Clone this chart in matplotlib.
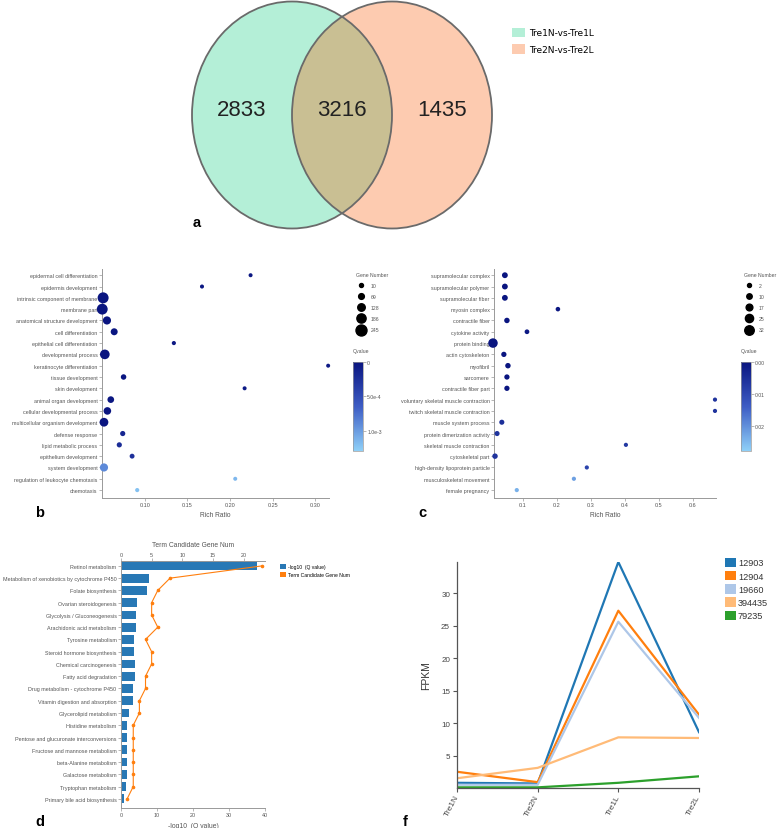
import numpy as np
import matplotlib.pyplot as plt
from matplotlib.patches import Ellipse, Patch
from matplotlib.lines import Line2D
from matplotlib.colors import LinearSegmentedColormap, Normalize

plt.rcParams['font.family'] = ['Liberation Sans', 'DejaVu Sans']

# ---- a: Venn
venn_sets = ["Tre1N-vs-Tre1L", "Tre2N-vs-Tre2L"]
venn_counts = [2833, 3216, 1435]

# ---- b: GO enrichment (set 1)
b_terms = ["epidermal cell differentiation", "epidermis development",
           "intrinsic component of membrane", "membrane part",
           "anatomical structure development", "cell differentiation",
           "epithelial cell differentiation", "developmental process",
           "keratinocyte differentiation", "tissue development", "skin development",
           "animal organ development", "cellular developmental process",
           "multicellular organism development", "defense response",
           "lipid metabolic process", "epithelium development", "system development",
           "regulation of leukocyte chemotaxis", "chemotaxis"]
b_ratio = [0.224, 0.167, 0.051, 0.050, 0.0555, 0.064, 0.134, 0.053, 0.315, 0.075,
           0.217, 0.060, 0.056, 0.052, 0.074, 0.070, 0.085, 0.052, 0.206, 0.091]
b_genes = [10, 12, 245, 240, 150, 110, 15, 200, 10, 60,
           10, 100, 130, 170, 50, 50, 40, 150, 10, 15]
b_q = [2e-5, 3e-5, 0, 0, 0, 1e-5, 4e-5, 0, 5e-5, 1e-5,
       6e-5, 2e-5, 0, 0, 1.6e-4, 2.2e-4, 2.5e-4, 9e-4, 1.15e-3, 1.2e-3]
b_gene_ticks = [10, 69, 128, 186, 245]

# ---- c: GO enrichment (set 2)
c_terms = ["supramolecular complex", "supramolecular polymer", "supramolecular fiber",
           "myosin complex", "contractile fiber", "cytokine activity", "protein binding",
           "actin cytoskeleton", "myofibril", "sarcomere", "contractile fiber part",
           "voluntary skeletal muscle contraction", "twitch skeletal muscle contraction",
           "muscle system process", "protein dimerization activity",
           "skeletal muscle contraction", "cytoskeletal part",
           "high-density lipoprotein particle", "musculoskeletal movement",
           "female pregnancy"]
c_ratio = [0.047, 0.047, 0.047, 0.203, 0.053, 0.112, 0.012, 0.044, 0.056, 0.053,
           0.053, 0.665, 0.665, 0.038, 0.024, 0.403, 0.018, 0.288, 0.250, 0.082]
c_genes = [12, 12, 12, 5, 10, 6, 32, 9, 10, 9,
           9, 3, 3, 8, 8, 3, 10, 3, 3, 3]
c_q = [0, 0, 0, 5e-4, 0, 8e-4, 0, 0, 0, 0,
       0, 6e-3, 6e-3, 5e-3, 6e-3, 7e-3, 6e-3, 9e-3, 0.022, 0.024]
c_gene_ticks = [2, 10, 17, 25, 32]

# ---- d: KEGG
d_terms = ["Retinol metabolism", "Metabolism of xenobiotics by cytochrome P450",
           "Folate biosynthesis", "Ovarian steroidogenesis",
           "Glycolysis / Gluconeogenesis", "Arachidonic acid metabolism",
           "Tyrosine metabolism", "Steroid hormone biosynthesis",
           "Chemical carcinogenesis", "Fatty acid degradation",
           "Drug metabolism - cytochrome P450", "Vitamin digestion and absorption",
           "Glycerolipid metabolism", "Histidine metabolism",
           "Pentose and glucuronate interconversions", "Fructose and mannose metabolism",
           "beta-Alanine metabolism", "Galactose metabolism", "Tryptophan metabolism",
           "Primary bile acid biosynthesis"]
d_logq = [37.8, 7.8, 7.2, 4.4, 4.1, 4.1, 3.7, 3.7, 3.9, 3.8,
          3.3, 3.3, 2.2, 1.8, 1.8, 1.8, 1.8, 1.6, 1.5, 0.9]
d_genes = [23, 8, 6, 5, 5, 6, 4, 5, 5, 4, 4, 3, 3, 2, 2, 2, 2, 2, 2, 1]

# ---- f: FPKM
f_samples = ["Tre1N", "Tre2N", "Tre1L", "Tre2L"]
f_ids = ["12903", "12904", "19660", "394435", "79235"]
f_vals = [[0.8, 0.7, 34.8, 8.6],
          [2.5, 0.9, 27.3, 11.3],
          [0.5, 0.5, 25.6, 10.8],
          [1.5, 3.1, 7.8, 7.7],
          [0.1, 0.1, 0.8, 1.8]]
f_colors = ["#1f77b4", "#ff7f0e", "#aec7e8", "#ffbb78", "#2ca02c"]

W, H = 778, 829
fig = plt.figure(figsize=(W / 100, H / 100), dpi=100)


def box(x0, y0, x1, y1):
    return fig.add_axes([x0 / W, 1 - y1 / H, (x1 - x0) / W, (y1 - y0) / H])


def fpt(x, y):
    return (x / W, 1 - y / H)


GREY = "#555555"
SPINE = "#999999"

# ================= a
mint, peach, olive = "#b4efd7", "#fdcbb0", "#c9bf93"
ax_a = box(0, 0, W, 240)
ax_a.set_xlim(0, W)
ax_a.set_ylim(240, 0)
ax_a.axis("off")
cl, cr, cy, ew, eh = 292, 392, 116, 200, 227
left = Ellipse((cl, cy), ew, eh, fc=mint, ec="none")
right = Ellipse((cr, cy), ew, eh, fc=peach, ec="none")
ax_a.add_patch(left)
ax_a.add_patch(right)
mid = Ellipse((cr, cy), ew, eh, fc=olive, ec="none")
ax_a.add_patch(mid)
mid.set_clip_path(left)
for c in (cl, cr):
    ax_a.add_patch(Ellipse((c, cy), ew, eh, fill=False, ec="#6a6a6a", lw=1.3))
xs = [(cl + cr - ew) / 2, (cl + cr) / 2, (cl + cr + ew) / 2]
for x, n in zip(xs, venn_counts):
    ax_a.text(x, cy - 5, str(n), ha="center", va="center", fontsize=16, color="#222222")
ax_a.legend(handles=[Patch(fc=mint, ec="none"), Patch(fc=peach, ec="none")],
            labels=venn_sets, loc="upper left", bbox_to_anchor=fpt(507, 24),
            bbox_transform=fig.transFigure, frameon=False, borderpad=0,
            prop={"family": "DejaVu Sans", "size": 6.5}, handlelength=1.45,
            handleheight=1.3, labelspacing=0.7, handletextpad=0.45)

# ================= b / c
qcmap = LinearSegmentedColormap.from_list("q", ["#0a1580", "#3d5cc4", "#8fd0f8"])


def dot_panel(rect, terms, ratio, genes, q, qmax, gticks, dmin, dmax,
              xlim, xticks, xfmt, qticks, qlabels, leg_x, cbar_rect):
    ax = box(*rect)
    g0, g1 = gticks[0], gticks[-1]

    def diam(g):
        return (dmin + (np.asarray(g) - g0) / (g1 - g0) * (dmax - dmin)) * 0.72

    y = np.arange(len(terms))
    sc = ax.scatter(ratio, y, s=diam(genes) ** 2, c=q, cmap=qcmap,
                    norm=Normalize(0, qmax), edgecolors="none", zorder=3, clip_on=False)
    ax.set_ylim(len(terms) - 1 + 0.7, -0.55)
    ax.set_xlim(*xlim)
    ax.set_yticks(y)
    ax.set_yticklabels(terms, fontsize=3.9, color=GREY)
    ax.set_xticks(xticks)
    ax.set_xticklabels([xfmt % v for v in xticks], fontsize=4.0, color=GREY)
    ax.tick_params(length=2, width=0.5, pad=1.2, color=SPINE)
    ax.set_xlabel("Rich Ratio", fontsize=4.8, color=GREY, labelpad=2.5)
    for s in ("top", "right"):
        ax.spines[s].set_visible(False)
    for s in ("left", "bottom"):
        ax.spines[s].set_color(SPINE)
        ax.spines[s].set_linewidth(0.7)

    handles = [Line2D([], [], ls="none", marker="o", color="black",
                      markersize=diam(g)) for g in gticks]
    leg = ax.legend(handles, [str(g) for g in gticks], title="Gene Number",
                    title_fontsize=3.7, fontsize=3.7, loc="upper left",
                    bbox_to_anchor=fpt(leg_x, 270), bbox_transform=fig.transFigure,
                    frameon=False, borderpad=0, handlelength=2, handletextpad=0.9,
                    labelspacing=1.2, alignment="left")
    leg.get_title().set_color(GREY)
    for t in leg.get_texts():
        t.set_color(GREY)

    fig.text(*fpt(leg_x, 351), "Qvalue", fontsize=3.7, color=GREY, va="center")
    cax = box(*cbar_rect)
    cb = fig.colorbar(sc, cax=cax, ticks=qticks)
    cb.ax.invert_yaxis()
    cb.set_ticklabels(qlabels)
    cb.ax.tick_params(labelsize=3.7, labelcolor=GREY, length=2, width=0.5,
                      color=SPINE, pad=1)
    cb.outline.set_edgecolor(SPINE)
    cb.outline.set_linewidth(0.5)
    return ax


dot_panel((102, 270, 329, 499), b_terms, b_ratio, b_genes, b_q, 1.29e-3, b_gene_ticks,
          4, 11, (0.0497, 0.316), [0.10, 0.15, 0.20, 0.25, 0.30], "%.2f",
          [0, 5e-4, 1e-3], ["0", "5.0e-4", "1.0e-3"], 353, (353, 363, 363, 452))
dot_panel((494, 270, 716, 499), c_terms, c_ratio, c_genes, c_q, 0.0278, c_gene_ticks,
          4, 9.5, (0.015, 0.668), [0.1, 0.2, 0.3, 0.4, 0.5, 0.6], "%.1f",
          [0, 0.01, 0.02], ["0.00", "0.01", "0.02"], 741, (741, 363, 751, 452))

# ================= d
blue, orange = "#2878b5", "#ff7f0e"
ax_d = box(121, 562, 265, 809)
yd = np.arange(len(d_terms))
ax_d.barh(yd, d_logq, height=0.72, color=blue)
ax_d.set_xlim(0, 40)
ax_d.set_xticks([0, 10, 20, 30, 40])
ax_d.set_ylim(len(d_terms) - 1 + 0.75, -0.4)
ax_d.set_yticks(yd)
ax_d.set_yticklabels(d_terms, fontsize=3.6, color=GREY)
ax_d.tick_params(labelsize=3.9, labelcolor=GREY, length=2, width=0.5, pad=1.2, color=SPINE)
ax_d.set_xlabel("-log10  (Q value)", fontsize=4.9, color=GREY, labelpad=3)
ax_t = ax_d.twiny()
ax_t.plot(d_genes, yd, color=orange, lw=0.8, marker="o", ms=1.6)
ax_t.set_xlim(0, 23.5)
ax_t.set_xticks([0, 5, 10, 15, 20])
ax_t.tick_params(labelsize=3.9, labelcolor=GREY, length=2, width=0.5, pad=1.2, color=SPINE)
ax_t.set_xlabel("Term Candidate Gene Num", fontsize=4.9, color=GREY, labelpad=4)
for s in ("top", "right"):
    ax_d.spines[s].set_visible(False)
for s in ("left", "right", "bottom"):
    ax_t.spines[s].set_visible(False)
for sp in (ax_d.spines["left"], ax_d.spines["bottom"], ax_t.spines["top"]):
    sp.set_color(SPINE)
    sp.set_linewidth(0.7)
ax_t.legend(handles=[Patch(fc=blue), Patch(fc=orange)],
            labels=["-log10  (Q value)", "Term Candidate Gene Num"],
            loc="upper left", bbox_to_anchor=fpt(277, 562), bbox_transform=fig.transFigure,
            frameon=False, borderpad=0, fontsize=3.6, handlelength=1.2, handleheight=1.2,
            labelspacing=0.6, handletextpad=0.6)

# ================= f
ax_f = box(457, 563, 699, 789)
xf = np.arange(len(f_samples))
for vals, col in zip(f_vals, f_colors):
    ax_f.plot(xf, vals, color=col, lw=1.6)
ax_f.set_xlim(0, 3)
ax_f.set_ylim(0, 34.8)
ax_f.set_yticks([5, 10, 15, 20, 25, 30])
ax_f.set_xticks(xf)
ax_f.set_xticklabels(f_samples, rotation=62, ha="right", va="center",
                     rotation_mode="anchor", fontsize=6, color="#444444")
ax_f.tick_params(axis="y", labelsize=5.8, labelcolor="#444444")
ax_f.tick_params(length=3, width=0.8, color="#555555", pad=2)
ax_f.set_ylabel("FPKM", fontsize=7.5, color="#333333", labelpad=7)
for s in ("top", "right"):
    ax_f.spines[s].set_visible(False)
for s in ("left", "bottom"):
    ax_f.spines[s].set_color("#555555")
    ax_f.spines[s].set_linewidth(0.9)
ax_f.legend(handles=[Patch(fc=c) for c in f_colors], labels=f_ids, loc="upper left",
            bbox_to_anchor=fpt(720, 554), bbox_transform=fig.transFigure, frameon=False,
            borderpad=0, fontsize=6.6, handlelength=1.2, handleheight=1.2,
            labelspacing=0.38, handletextpad=0.25, labelcolor="#333333")

# panel letters
for (x, y), lab in zip([(197, 223), (40, 513), (422, 513), (40, 822), (405, 822)],
                       ["a", "b", "c", "d", "f"]):
    fig.text(*fpt(x, y), lab, fontsize=10.5, fontweight="bold", ha="center", va="center")

fig.savefig("out.png", dpi=100)
